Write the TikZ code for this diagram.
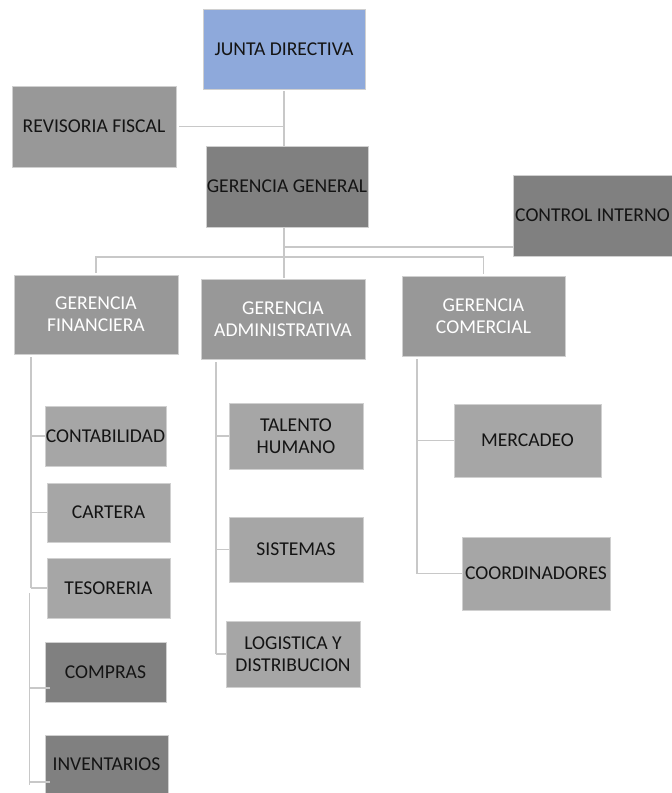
\documentclass[tikz,border=0pt]{standalone}
\usepackage{fontspec}
\setmainfont{Carlito}
\definecolor{blueJD}{HTML}{8EA9DB}
\definecolor{gA}{HTML}{989898}
\definecolor{gD}{HTML}{808080}
\definecolor{gL}{HTML}{A6A6A6}
\definecolor{lineC}{HTML}{C8C8C8}
\definecolor{edgeC}{HTML}{D0D0D0}
\definecolor{txt}{HTML}{141414}
\begin{document}
\begin{tikzpicture}[x=1pt,y=-1pt,
  unit/.style={rectangle, inner sep=0pt, align=center, draw=edgeC, line width=0.5pt,
    font=\fontsize{19.6}{22}\selectfont, text=txt},
  conn/.style={draw=lineC, line width=1.6pt}]
\useasboundingbox (0,0) rectangle (672,793);

% top level
\node[unit, fill=blueJD, minimum width=162pt, minimum height=80pt] (jd) at (284,49) {JUNTA DIRECTIVA};
\node[unit, fill=gA, minimum width=164pt, minimum height=81pt] (rf) at (94,126.5) {REVISORIA FISCAL};
\node[unit, fill=gD, minimum width=162pt, minimum height=81pt] (gg) at (287,186.5) {GERENCIA GENERAL};
\node[unit, fill=gD, minimum width=159pt, minimum height=81pt] (ci) at (592.5,215.5) {CONTROL INTERNO};

% gerencias
\node[unit, fill=gA, text=white, minimum width=164pt, minimum height=79pt] (gf) at (96,314.5) {GERENCIA\\FINANCIERA};
\node[unit, fill=gA, text=white, minimum width=164pt, minimum height=80pt] (ga) at (283,319) {GERENCIA\\ADMINISTRATIVA};
\node[unit, fill=gA, text=white, minimum width=163pt, minimum height=80pt] (gc) at (483.5,316) {GERENCIA\\COMERCIAL};

% financiera
\node[unit, fill=gL, minimum width=121pt, minimum height=60pt] (con) at (105.5,436) {CONTABILIDAD};
\node[unit, fill=gL, minimum width=123pt, minimum height=59pt] (car) at (108.5,512.5) {CARTERA};
\node[unit, fill=gL, minimum width=123pt, minimum height=60pt] (tes) at (108.5,588) {TESORERIA};
\node[unit, fill=gD, minimum width=121pt, minimum height=60pt] (com) at (105.5,672) {COMPRAS};
\node[unit, fill=gD, minimum width=123pt, minimum height=58pt] (inv) at (106.5,764) {INVENTARIOS};

% administrativa
\node[unit, fill=gL, minimum width=134pt, minimum height=66pt] (th) at (296,436) {TALENTO\\HUMANO};
\node[unit, fill=gL, minimum width=134pt, minimum height=65pt] (sis) at (296,549.5) {SISTEMAS};
\node[unit, fill=gL, minimum width=134pt, minimum height=66pt] (log) at (293,654) {LOGISTICA Y\\DISTRIBUCION};

% comercial
\node[unit, fill=gL, minimum width=147pt, minimum height=73pt] (mer) at (527.5,440.5) {MERCADEO};
\node[unit, fill=gL, minimum width=148pt, minimum height=73pt] (coo) at (536,573.5) {COORDINADORES};

% connectors top
\coordinate (t1) at (284,247);
\coordinate (t2) at (284,257);
\draw[conn] ([yshift=-2pt]jd.south) -- (jd.south |- gg.north);
\draw[conn] ([xshift=3pt]rf.east) -- (jd.south |- rf.east);
\draw[conn] ([yshift=-1pt]jd.south |- gg.south) -- (t2);
\draw[conn] (t1) -- (t1 -| ci.west);
\draw[conn] ([yshift=2pt]gf.north) -- (gf.north |- t2) -- (gc.north |- t2) -- ([yshift=2pt]gc.north);
\draw[conn] (t2) -- ([yshift=1pt]t2 |- ga.north);

% financiera spine
\coordinate (fs) at (31,357);
\coordinate (fs2) at (29.5,593);
\coordinate (fe2) at (29.5,785);
\coordinate (bcom) at (50,688);
\coordinate (binv) at (50,782);
\draw[conn] (fs) -- (fs |- tes.west);
\draw[conn] (fs |- con.west) -- (con.west);
\draw[conn] (fs |- car.west) -- (car.west);
\draw[conn] (fs |- tes.west) -- (tes.west);
\draw[conn] (fs2) -- (fe2);
\draw[conn] (fs2 |- bcom) -- (bcom);
\draw[conn] (fs2 |- binv) -- (binv);

% administrativa spine
\coordinate (as) at (216,362);
\draw[conn] (as) -- (as |- log.west);
\draw[conn] (as |- th.west) -- (th.west);
\draw[conn] (as |- sis.west) -- (sis.west);
\draw[conn] (as |- log.west) -- (log.west);

% comercial spine
\coordinate (cs) at (417,359);
\draw[conn] (cs) -- (cs |- coo.west);
\draw[conn] (cs |- mer.west) -- (mer.west);
\draw[conn] (cs |- coo.west) -- (coo.west);
\end{tikzpicture}
\end{document}
